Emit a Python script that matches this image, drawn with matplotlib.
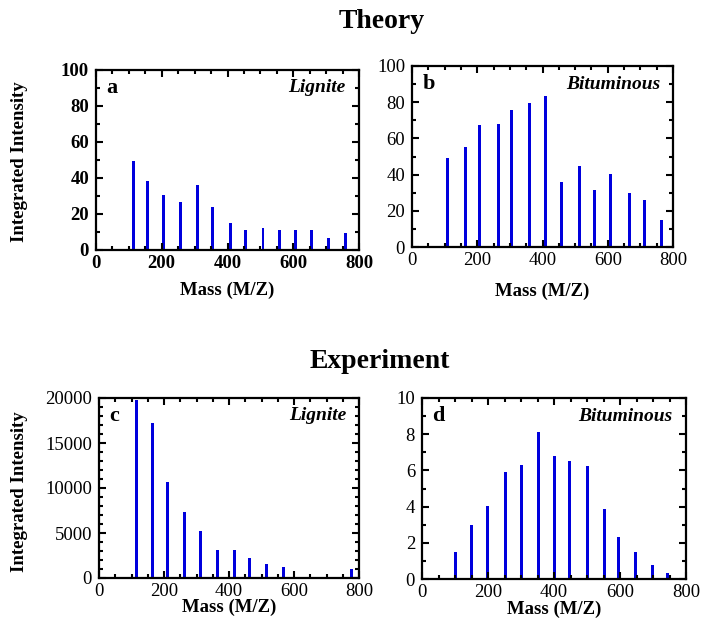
import matplotlib
matplotlib.use("Agg")
import matplotlib.pyplot as plt
from matplotlib.ticker import MultipleLocator

plt.rcParams['font.family'] = ['Liberation Serif', 'DejaVu Serif']

# theory, lignite
mass_a = [114, 158, 206, 258, 310, 354, 410, 456, 508, 558, 608, 656, 708, 758]
int_a = [49.4, 38.3, 30.6, 26.7, 36.1, 23.9, 15.0, 11.1, 12.2, 11.1, 11.1, 11.1, 6.7, 9.4]

# theory, bituminous
mass_b = [109, 164, 207, 266, 306, 361, 410, 459, 512, 558, 607, 666, 712, 764]
int_b = [48.9, 55.0, 67.6, 68.2, 75.9, 79.8, 83.6, 35.7, 45.0, 31.3, 40.6, 29.6, 25.7, 14.7]

# experiment, lignite
mass_c = [115, 164, 210, 263, 312, 364, 416, 463, 515, 567, 776]
int_c = [19800, 17270, 10630, 7310, 5200, 3100, 3100, 2210, 1550, 1220, 1000]

# experiment, bituminous
mass_d = [102, 150, 199, 253, 302, 353, 402, 447, 502, 553, 595, 647, 698, 744]
int_d = [1.5, 3.0, 4.06, 5.89, 6.28, 8.11, 6.78, 6.5, 6.22, 3.89, 2.33, 1.5, 0.78, 0.33]

W, H = 701, 620
fig = plt.figure(figsize=(W / 100, H / 100), dpi=100)


def box(l, r, t, b):
    return [l / W, 1 - b / H, (r - l) / W, (b - t) / H]


def panel(rect, x, y, ymax, ymaj, ymin, letter, coal, xlpad, bold_ticks=False):
    ax = fig.add_axes(rect)
    ax.bar(x, y, width=9, color='#0000dd', zorder=1)
    ax.set_xlim(0, 800)
    ax.set_ylim(0, ymax)
    ax.xaxis.set_major_locator(MultipleLocator(200))
    ax.xaxis.set_minor_locator(MultipleLocator(50))
    ax.yaxis.set_major_locator(MultipleLocator(ymaj))
    ax.yaxis.set_minor_locator(MultipleLocator(ymin))
    ax.tick_params(which='both', direction='in', top=True, right=True,
                   width=1.5, labelsize=13.5)
    ax.tick_params(axis='x', pad=3.5)
    ax.tick_params(axis='y', pad=5)
    ax.tick_params(which='major', length=5)
    ax.tick_params(which='minor', length=3)
    for s in ax.spines.values():
        s.set_linewidth(1.6)
    if bold_ticks:
        for lab in ax.get_xticklabels() + ax.get_yticklabels():
            lab.set_fontweight('bold')
    ax.set_xlabel('Mass (M/Z)', fontsize=13.5, fontweight='bold', labelpad=xlpad)
    ax.text(0.04, 0.9, letter, transform=ax.transAxes, fontsize=16,
            fontweight='bold', va='center', ha='left')
    ax.text(0.95, 0.9, coal, transform=ax.transAxes, fontsize=14,
            fontweight='bold', style='italic', va='center', ha='right')
    return ax


panel(box(96, 359, 70, 250), mass_a, int_a, 100, 20, 10, 'a', 'Lignite', 7, bold_ticks=True)
panel(box(412, 673, 66, 247), mass_b, int_b, 100, 20, 10, 'b', 'Bituminous', 10)
panel(box(99, 359, 398, 578), mass_c, int_c, 20000, 5000, 1000, 'c', 'Lignite', -1)
panel(box(422, 686, 398, 579), mass_d, int_d, 10, 2, 1, 'd', 'Bituminous', 0)

fig.text(382 / W, 1 - 21 / H, 'Theory', fontsize=20, fontweight='bold',
         ha='center', va='center')
fig.text(380 / W, 1 - 362 / H, 'Experiment', fontsize=20, fontweight='bold',
         ha='center', va='center')
fig.text(20 / W, 1 - 162 / H, 'Integrated Intensity', fontsize=13.5,
         fontweight='bold', rotation=90, ha='center', va='center')
fig.text(20 / W, 1 - 492 / H, 'Integrated Intensity', fontsize=13.5,
         fontweight='bold', rotation=90, ha='center', va='center')

fig.savefig('out.png', dpi=100)
